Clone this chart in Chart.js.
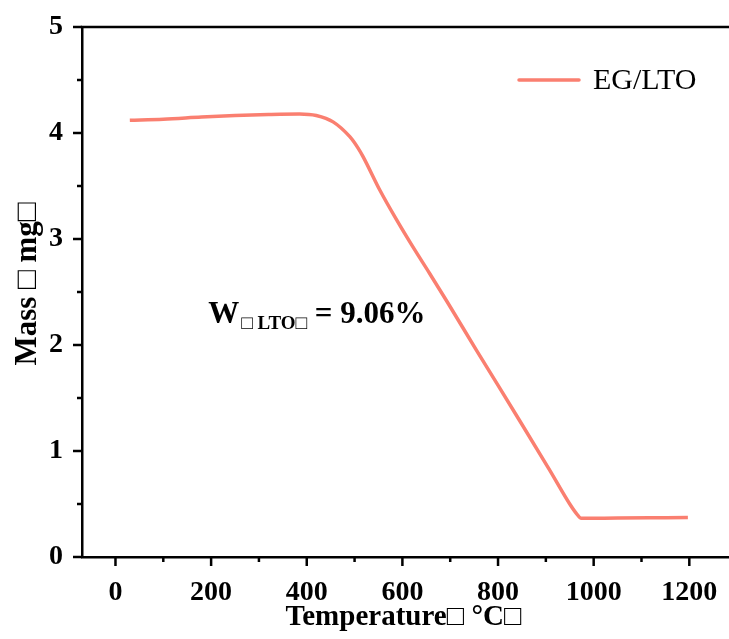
<!DOCTYPE html>
<html>
<head>
<meta charset="utf-8">
<script src="https://cdn.jsdelivr.net/npm/chart.js@4/dist/chart.umd.min.js"></script>
<style>
  html, body { margin: 0; padding: 0; background: #fff; }
  #wrap { width: 729px; height: 639px; position: relative; }
</style>
</head>
<body>
<div id="wrap"><canvas id="c" width="729" height="639"></canvas></div>
<script>
// TGA curve of EG/LTO: temperature (°C) vs mass (mg)
const temperature = [30, 100, 180, 250, 320, 385, 420, 455, 490, 507, 518, 553, 588, 622, 657, 692, 755, 838, 908, 950, 964, 974, 1050, 1117, 1197];
const mass = [4.12, 4.13, 4.15, 4.165, 4.175, 4.18, 4.165, 4.105, 3.965, 3.86, 3.775, 3.46, 3.18, 2.925, 2.675, 2.42, 1.95, 1.34, 0.82, 0.5, 0.41, 0.365, 0.368, 0.37, 0.372];
const seriesName = 'EG/LTO';
const xTicksMajor = [0, 200, 400, 600, 800, 1000, 1200];
const yTicksMajor = [0, 1, 2, 3, 4, 5];
const residueLabel = { main: 'W', sub: '\u25A1 LTO\u25A1', rest: ' = 9.06%', x: 194, y: 2.3 };
const xTitle = 'Temperature\u25A1 \u00B0C\u25A1';
const yTitle = 'Mass \u25A1 mg\u25A1';

const lineColor = '#FA7F70';
const serif = '"Liberation Serif", "Times New Roman", serif';

const points = temperature.map((t, i) => ({ x: t, y: mass[i] }));

const frame = {
  id: 'frame',
  afterDraw(chart) {
    const { ctx, chartArea: a, scales: { x, y } } = chart;
    ctx.save();
    ctx.strokeStyle = '#000';
    ctx.lineWidth = 2.5;
    // top border
    ctx.beginPath();
    ctx.moveTo(a.left - 1.25, a.top);
    ctx.lineTo(chart.width, a.top);
    ctx.stroke();
    // x ticks (major every 200, minor every 100), outward
    for (let v = 0; v <= 1200; v += 100) {
      const px = x.getPixelForValue(v);
      const len = v % 200 === 0 ? 9 : 5;
      ctx.beginPath();
      ctx.moveTo(px, a.bottom);
      ctx.lineTo(px, a.bottom + len);
      ctx.stroke();
    }
    // y ticks (major every 1, minor every 0.5), outward
    for (let v = 0; v <= 5; v += 0.5) {
      const py = y.getPixelForValue(v);
      const len = Number.isInteger(v) ? 9 : 5;
      ctx.beginPath();
      ctx.moveTo(a.left, py);
      ctx.lineTo(a.left - len, py);
      ctx.stroke();
    }

    // legend
    const ly = 80;
    ctx.strokeStyle = lineColor;
    ctx.lineWidth = 3.5;
    ctx.lineCap = 'round';
    ctx.beginPath();
    ctx.moveTo(519, ly);
    ctx.lineTo(579, ly);
    ctx.stroke();
    ctx.fillStyle = '#000';
    ctx.font = '30px ' + serif;
    ctx.textBaseline = 'middle';
    ctx.textAlign = 'left';
    ctx.fillText(seriesName, 593, ly + 1);

    // residue annotation
    const ax = x.getPixelForValue(residueLabel.x);
    const ay = y.getPixelForValue(residueLabel.y);
    ctx.textBaseline = 'alphabetic';
    ctx.font = 'bold 31px ' + serif;
    ctx.fillText(residueLabel.main, ax, ay + 10);
    let cx = ax + ctx.measureText(residueLabel.main).width + 2;
    ctx.font = 'bold 19px ' + serif;
    ctx.fillText(residueLabel.sub, cx, ay + 16);
    cx += ctx.measureText(residueLabel.sub).width;
    ctx.font = 'bold 31px ' + serif;
    ctx.fillText(residueLabel.rest, cx, ay + 10);

    // axis titles
    ctx.textAlign = 'center';
    ctx.textBaseline = 'middle';
    ctx.font = 'bold 29px ' + serif;
    ctx.fillText(xTitle, (a.left + a.right) / 2 - 2, 618);
    ctx.font = 'bold 31px ' + serif;
    ctx.translate(28, (a.top + a.bottom) / 2 - 8);
    ctx.rotate(-Math.PI / 2);
    ctx.fillText(yTitle, 0, 0);
    ctx.restore();
  }
};

new Chart(document.getElementById('c'), {
  type: 'line',
  data: {
    datasets: [{
      label: seriesName,
      data: points,
      borderColor: lineColor,
      borderWidth: 3.5,
      pointRadius: 0,
      cubicInterpolationMode: 'monotone',
      fill: false
    }]
  },
  options: {
    responsive: false,
    animation: false,
    layout: { padding: { top: 27, right: 0, left: 0, bottom: 0 } },
    plugins: { legend: { display: false }, tooltip: { enabled: false } },
    scales: {
      x: {
        type: 'linear',
        min: -70,
        max: 1283,
        afterBuildTicks(s) { s.ticks = xTicksMajor.map(v => ({ value: v })); },
        afterFit(s) { s.height = 82; s.paddingLeft = 0; s.paddingRight = 0; },
        grid: { display: false },
        border: { display: true, color: '#000', width: 2.5 },
        ticks: {
          color: '#000',
          padding: 11,
          maxRotation: 0,
          callback: v => String(v),
          font: { family: serif, size: 28, weight: 'bold' }
        }
      },
      y: {
        type: 'linear',
        min: 0,
        max: 5,
        afterBuildTicks(s) { s.ticks = yTicksMajor.map(v => ({ value: v })); },
        afterFit(s) { s.width = 82; s.paddingTop = 0; s.paddingBottom = 0; },
        grid: { display: false },
        border: { display: true, color: '#000', width: 2.5 },
        ticks: {
          color: '#000',
          padding: 11,
          callback: v => String(v),
          font: { family: serif, size: 28, weight: 'bold' }
        }
      }
    }
  },
  plugins: [frame]
});
</script>
</body>
</html>
